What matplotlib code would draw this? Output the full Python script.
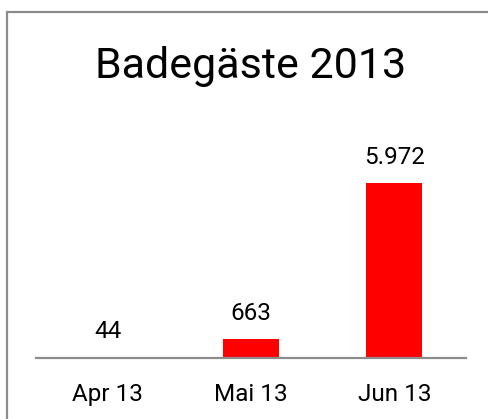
import matplotlib.pyplot as plt
from matplotlib.patches import Rectangle

months = ['Apr 13', 'Mai 13', 'Jun 13']
guests = [44, 663, 5972]
guest_labels = ['44', '663', '5.972']

W, H = 488, 419
fig = plt.figure(figsize=(W / 100, H / 100), dpi=100)
plt.rcParams['font.family'] = ['Roboto', 'DejaVu Sans']

# outer frame (runs off the right and bottom edge)
fig.patches.append(Rectangle((7 / W, -0.1), 1.2, (H - 12) / H + 0.1,
                             transform=fig.transFigure, fill=False,
                             edgecolor='#8c8c8c', linewidth=1.6))

fig.text(251 / W, (H - 78) / H, 'Badegäste 2013', ha='center', va='baseline',
         fontsize=31, color='black')

ymax = 9000
ax_h = ymax * 175 / 5972
ax = fig.add_axes([36 / W, (H - 358) / H, 430 / W, ax_h / H])
x = range(len(months))
ax.bar(x, guests, width=0.39, color='#ff0000')
ax.set_xlim(-0.5, 2.5)
ax.set_ylim(0, ymax)

for xi, v, lab in zip(x, guests, guest_labels):
    ax.annotate(lab, (xi, v), xytext=(0, 13.5), textcoords='offset points',
                ha='center', va='baseline', fontsize=17.5)

for s in ['top', 'right', 'left']:
    ax.spines[s].set_visible(False)
ax.spines['bottom'].set_color('#8c8c8c')
ax.spines['bottom'].set_linewidth(1.6)
ax.set_yticks([])
ax.set_xticks(list(x))
ax.set_xticklabels(months, fontsize=17.5)
ax.tick_params(axis='x', length=0, pad=18)

fig.savefig('out.png', dpi=100)
